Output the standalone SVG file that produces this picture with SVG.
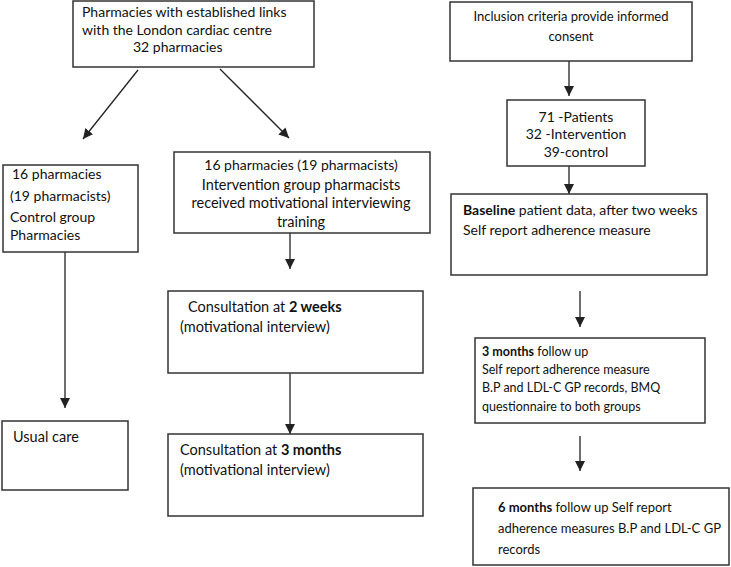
<svg xmlns="http://www.w3.org/2000/svg" width="731" height="567" viewBox="0 0 731 567">
<defs>
<marker id="ah" viewBox="0 0 10 10" refX="10" refY="5" markerWidth="10" markerHeight="10" markerUnits="userSpaceOnUse" orient="auto">
<path d="M0,0 L10,5 L0,10 z" fill="#222"/>
</marker>
<style>
rect{fill:#fff;stroke:#333;stroke-width:1.5}
text{font-family:Lato,"Open Sans","Liberation Sans",sans-serif;font-size:14px;fill:#111}
.s{font-size:13px}
.xs{font-size:12.5px}
.l{font-size:14.5px}
.c{text-anchor:middle}
.b{font-weight:bold}
#connectors line{stroke:#222;stroke-width:1.3;marker-end:url(#ah)}
</style>
</defs>
<rect x="0" y="0" width="731" height="567" style="fill:#fff;stroke:none"/>
<g id="connectors">
<line x1="138" y1="70" x2="83" y2="139"/>
<line x1="220" y1="69" x2="289" y2="138"/>
<line x1="569" y1="61" x2="569" y2="96"/>
<line x1="569" y1="166" x2="569" y2="194"/>
<line x1="580" y1="291" x2="580" y2="327"/>
<line x1="580" y1="436" x2="580" y2="471"/>
<line x1="290" y1="233" x2="290" y2="269"/>
<line x1="290" y1="373" x2="290" y2="434"/>
<line x1="65" y1="252" x2="65" y2="408"/>
</g>
<g id="n-top">
<rect x="73" y="1" width="241" height="66"/>
<text x="82" y="17">Pharmacies with established links</text>
<text x="82" y="35">with the London cardiac centre</text>
<text x="133" y="52">32 pharmacies</text>
</g>
<g id="n-inclusion">
<rect x="450" y="2" width="242" height="59"/>
<text class="c s" x="571" y="21">Inclusion criteria provide informed</text>
<text class="c s" x="571" y="41">consent</text>
</g>
<g id="n-patients">
<rect x="507" y="100" width="138" height="66"/>
<text class="c" x="576" y="122">71 -Patients</text>
<text class="c" x="576" y="139">32 -Intervention</text>
<text class="c" x="576" y="157">39-control</text>
</g>
<g id="n-baseline">
<rect x="451" y="194" width="256" height="81"/>
<text x="463" y="215"><tspan class="b">Baseline</tspan> patient data, after two weeks</text>
<text x="463" y="235">Self report adherence measure</text>
</g>
<g id="n-3m">
<rect x="475" y="338" width="230" height="85"/>
<text class="xs" x="482" y="356"><tspan class="b">3 months</tspan> follow up</text>
<text class="xs" x="482" y="374">Self report adherence measure</text>
<text class="xs" x="482" y="392">B.P and LDL-C GP records, BMQ</text>
<text class="xs" x="482" y="411">questionnaire to both groups</text>
</g>
<g id="n-6m">
<rect x="473" y="488" width="256" height="77"/>
<text class="s" x="498" y="512"><tspan class="b">6 months</tspan> follow up Self report</text>
<text class="s" x="498" y="533">adherence measures B.P and LDL-C GP</text>
<text class="s" x="498" y="554">records</text>
</g>
<g id="n-control">
<rect x="3" y="165" width="135" height="87"/>
<text x="12" y="179">16 pharmacies</text>
<text x="10" y="201">(19 pharmacists)</text>
<text x="10" y="222">Control group</text>
<text x="10" y="240">Pharmacies</text>
</g>
<g id="n-intervention">
<rect x="174" y="152" width="256" height="81"/>
<text class="c" x="301" y="170">16 pharmacies (19 pharmacists)</text>
<text class="c l" x="301" y="190">Intervention group pharmacists</text>
<text class="c l" x="301" y="208">received motivational interviewing</text>
<text class="c l" x="301" y="227">training</text>
</g>
<g id="n-2w">
<rect x="168" y="291" width="255" height="82"/>
<text class="l" x="188" y="312">Consultation at <tspan class="b">2 weeks</tspan></text>
<text class="l" x="180" y="332">(motivational interview)</text>
</g>
<g id="n-3mc">
<rect x="168" y="434" width="255" height="82"/>
<text class="l" x="180" y="455">Consultation at <tspan class="b">3 months</tspan></text>
<text class="l" x="180" y="475">(motivational interview)</text>
</g>
<g id="n-usual">
<rect x="2" y="421" width="126" height="69"/>
<text class="l" x="13" y="442">Usual care</text>
</g>
</svg>
